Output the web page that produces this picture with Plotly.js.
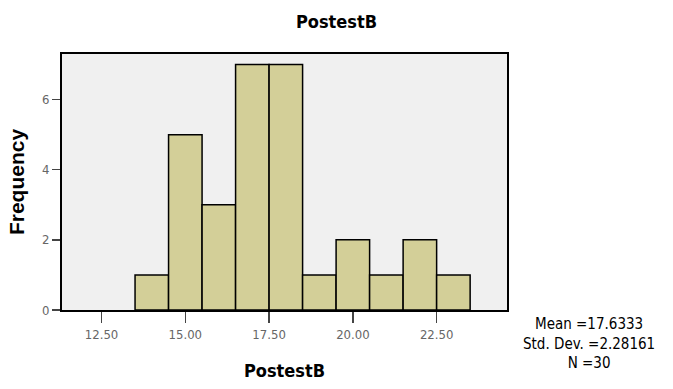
<!DOCTYPE html>
<html>
<head>
<meta charset="utf-8">
<script src="https://cdn.plot.ly/plotly-3.0.1.min.js"></script>
<style>html,body{margin:0;padding:0;background:#fff;}#chart{width:673px;height:389px;}</style>
</head>
<body>
<div id="chart"></div>
<script>
const binCenters = [14, 15, 16, 17, 18, 19, 20, 21, 22, 23];
const frequencies = [1, 5, 3, 7, 7, 1, 2, 1, 2, 1];
const xTickValues = [12.5, 15, 17.5, 20, 22.5];
const xTickLabels = ["12.50", "15.00", "17.50", "20.00", "22.50"];
const yTickValues = [0, 2, 4, 6];
const statsLines = ["Mean =17.6333", "Std. Dev. =2.28161", "N =30"];

const narrow = "DejaVu Sans Condensed, Liberation Sans Narrow, sans-serif";

const trace = {
  type: "bar",
  x: binCenters,
  y: frequencies,
  width: 1,
  marker: {color: "#D3CF98", line: {color: "#000", width: 1.5}},
  hoverinfo: "skip"
};

const layout = {
  width: 673, height: 389,
  margin: {l: 62, r: 166, t: 54, b: 79},
  paper_bgcolor: "#fff",
  plot_bgcolor: "#F0F0F0",
  showlegend: false,
  bargap: 0,
  title: {text: "<b>PostestB</b>", x: 0.5, xanchor: "center", y: 0.945, yanchor: "middle",
          font: {family: narrow, size: 18, color: "#000"}},
  xaxis: {
    range: [11.32, 24.6],
    tickvals: xTickValues, ticktext: xTickLabels,
    ticks: "outside", ticklen: 11, tickcolor: "#444", tickwidth: 1.5,
    showline: true, mirror: true, linecolor: "#000", linewidth: 2,
    showgrid: false, zeroline: false,
    tickfont: {family: narrow, size: 13, color: "#666"},
    title: {text: "<b>PostestB</b>", font: {family: narrow, size: 18, color: "#000"}, standoff: 24}
  },
  yaxis: {
    range: [0, 7.3],
    tickvals: yTickValues,
    ticks: "outside", ticklen: 8, tickcolor: "#444", tickwidth: 1.5,
    showline: true, mirror: true, linecolor: "#000", linewidth: 2,
    showgrid: false, zeroline: false,
    tickfont: {family: narrow, size: 13, color: "#666"},
    title: {text: "<b>Frequency</b>", font: {family: "Liberation Sans, Arial, sans-serif", size: 21, color: "#000"}, standoff: 12}
  },
  annotations: [{
    xref: "paper", yref: "paper",
    x: 1.184, y: -0.01, xanchor: "center", yanchor: "top",
    text: statsLines.join("<br>"),
    showarrow: false, align: "center",
    font: {family: narrow, size: 15, color: "#000"}
  }]
};

Plotly.newPlot("chart", [trace], layout, {displayModeBar: false, staticPlot: true});
</script>
</body>
</html>
